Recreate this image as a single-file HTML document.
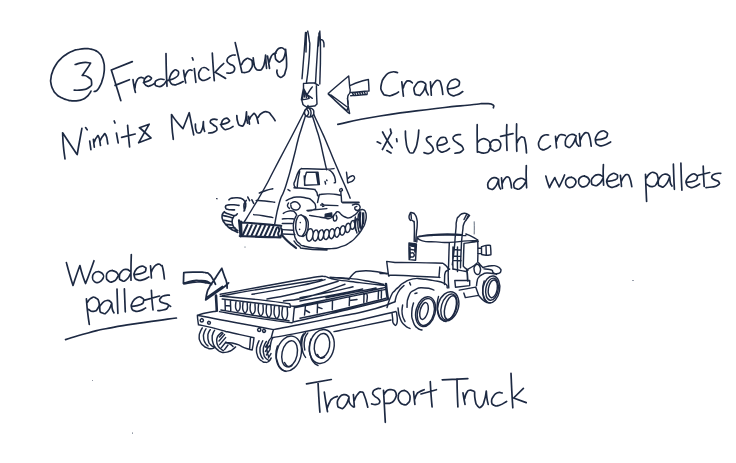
<!DOCTYPE html>
<html><head><meta charset="utf-8"><title>Sketch</title>
<style>
html,body{margin:0;padding:0;background:#fff;}
body{width:736px;height:463px;overflow:hidden;font-family:"Liberation Sans",sans-serif;}
svg{display:block;}
</style></head><body>
<svg width="736" height="463" viewBox="0 0 736 463">
<defs><filter id="soft" x="-2%" y="-2%" width="104%" height="104%"><feGaussianBlur stdDeviation="0.32"/></filter></defs>
<rect width="736" height="463" fill="#ffffff"/>
<g filter="url(#soft)">
<g fill="none" stroke="#1e2943" stroke-linecap="round" stroke-linejoin="round">
<path d="M97.0,51.2C95.0,50.5 94.8,50.0 91.0,49.2C87.2,48.4 90.0,48.6 85.7,48.7C81.4,48.8 82.5,48.7 78.0,49.5C73.5,50.3 76.5,49.4 72.3,51.2C68.1,53.0 69.6,52.2 65.5,55.0C61.4,57.8 63.3,56.2 60.0,59.7C56.7,63.2 58.0,61.4 55.5,65.5C53.0,69.6 53.9,67.9 52.4,72.1C50.9,76.3 51.5,74.2 51.0,78.0C50.5,81.8 50.3,79.7 51.0,83.5C51.7,87.3 51.3,86.0 53.0,89.5C54.7,93.0 53.5,91.3 56.2,94.0C58.9,96.7 57.5,95.6 61.0,97.5C64.5,99.4 62.9,98.6 66.6,99.7C70.3,100.8 68.2,100.5 72.0,100.8C75.8,101.1 74.3,101.1 78.0,100.6C81.7,100.1 80.1,100.5 83.0,99.2C85.9,97.9 84.5,98.5 86.6,96.8C88.7,95.1 87.7,95.9 89.2,94.0C90.7,92.1 90.4,92.1 91.0,91.1 M95.5,50.6C96.8,51.6 97.4,51.4 99.5,53.5C101.6,55.6 100.4,54.1 101.8,56.9C103.2,59.7 102.8,58.5 103.6,62.0C104.4,65.5 104.2,63.3 104.3,67.3C104.4,71.3 104.4,69.9 103.8,74.0C103.2,78.1 103.5,76.0 102.4,79.7C101.3,83.4 102.0,81.8 100.5,85.0C99.0,88.2 99.5,87.2 98.0,89.2C96.5,91.2 97.3,90.2 96.0,91.0C94.7,91.8 94.8,91.3 94.2,91.5 M75.2,64.5C77.8,63.9 77.9,63.1 83.0,62.6C88.1,62.1 88.1,62.9 90.6,63.0C89.2,65.2 89.3,65.4 86.5,69.5C83.7,73.6 83.6,73.4 82.2,75.4C84.1,75.9 84.9,74.6 88.0,77.0C91.1,79.4 91.4,78.9 91.6,82.5C91.8,86.1 91.7,85.4 88.5,87.8C85.3,90.2 86.8,89.0 82.0,89.8C77.2,90.6 76.8,90.1 74.2,90.2" stroke-width="1.7"/>
<path d="M132.3,61.6L111.3,70.0C112.9,75.0 112.8,74.8 116.0,85.0C119.2,95.2 119.2,95.4 120.8,100.6 M115.1,85.4L129.4,79.7 M133.0,79.5C133.3,81.7 133.2,81.7 134.0,86.0C134.8,90.3 134.9,90.3 135.4,92.4 M135.0,88.0C135.4,86.0 134.7,85.4 136.2,82.0C137.7,78.6 137.1,79.1 139.5,77.8C141.9,76.5 142.2,77.9 143.5,78.0 M143.5,82.6C145.8,81.7 148.1,81.7 150.3,79.8C152.5,77.9 151.3,77.7 150.0,76.8C148.7,75.9 148.5,75.4 146.5,77.0C144.5,78.6 144.0,78.6 144.0,81.5C144.0,84.4 144.3,84.2 146.5,85.6C148.7,87.0 147.7,86.5 150.5,85.6C153.3,84.7 153.5,83.9 155.0,83.0 M164.0,79.5C162.2,79.5 161.5,78.2 158.5,79.5C155.5,80.8 155.0,81.2 155.0,83.5C155.0,85.8 155.8,86.0 158.5,86.5C161.2,87.0 160.4,86.8 163.0,85.0C165.6,83.2 165.1,82.3 166.2,81.0 M166.0,53.6C166.1,59.1 166.0,59.1 166.3,70.0C166.6,80.9 166.8,80.9 167.0,86.3 M167.6,80.6C170.2,79.6 171.9,80.0 175.5,77.6C179.1,75.2 178.0,75.8 178.5,73.5C179.0,71.2 178.7,71.4 177.0,70.6C175.3,69.8 175.8,69.0 173.5,71.0C171.2,73.0 171.1,72.8 170.0,76.5C168.9,80.2 169.0,79.3 170.2,82.0C171.4,84.7 170.9,83.9 173.5,84.6C176.1,85.3 174.8,85.0 178.0,84.0C181.2,83.0 181.5,82.4 183.2,81.6 M183.6,70.4C183.9,72.6 183.9,72.9 184.6,77.0C185.3,81.1 185.3,80.9 185.7,82.8 M185.0,77.0C185.6,75.5 185.3,74.8 186.8,72.5C188.3,70.2 187.8,70.7 189.5,70.0C191.2,69.3 191.2,70.3 192.0,70.4 M194.3,68.5C194.5,70.7 194.5,70.4 195.0,75.0C195.5,79.6 195.6,79.9 195.9,82.3 M192.3,57.8L193.1,60.0 M208.6,70.0C207.1,69.2 206.9,67.3 204.0,67.5C201.1,67.7 201.7,67.8 200.0,70.5C198.3,73.2 198.5,72.5 198.8,75.5C199.1,78.5 198.8,78.1 201.0,79.6C203.2,81.1 202.5,80.7 205.5,80.0C208.5,79.3 208.5,78.4 210.0,77.6 M212.3,53.0C212.6,57.7 212.5,57.8 213.2,67.0C213.9,76.2 213.9,76.1 214.3,80.6 M223.7,63.5C222.1,65.0 221.8,65.1 219.0,68.0C216.2,70.9 216.5,70.9 215.2,72.3C216.8,73.2 216.5,73.0 220.0,75.0C223.5,77.0 223.7,77.3 225.6,78.4 M235.3,55.0C233.7,55.3 233.3,54.3 230.5,56.0C227.7,57.7 227.3,57.4 227.0,60.0C226.7,62.6 227.3,61.8 229.5,63.8C231.7,65.8 231.9,63.9 233.5,66.0C235.1,68.1 235.1,67.7 234.4,70.0C233.7,72.3 234.0,71.8 231.5,72.8C229.0,73.8 228.4,72.9 226.8,73.0 M235.2,42.6C236.3,47.4 236.3,47.1 238.5,57.0C240.7,66.9 240.8,67.2 241.9,72.3 M241.6,64.5C242.7,62.9 242.4,61.6 245.0,59.8C247.6,58.0 247.0,57.8 249.5,59.0C252.0,60.2 252.1,60.0 252.4,63.5C252.7,67.0 252.5,66.6 250.5,69.5C248.5,72.4 249.3,71.3 246.5,72.2C243.7,73.1 243.6,72.3 242.2,72.3 M253.2,57.8C253.5,59.7 253.3,60.1 254.0,63.5C254.7,66.9 253.8,65.8 255.4,68.0C257.0,70.2 256.5,70.2 258.9,70.2C261.3,70.2 260.6,70.7 262.5,68.0C264.4,65.3 263.6,66.3 264.6,62.0C265.6,57.7 265.3,57.5 265.6,55.2C265.7,57.5 265.7,57.6 266.0,62.0C266.3,66.4 266.4,66.2 266.6,68.3 M267.5,56.0C267.8,58.0 267.8,57.9 268.5,62.0C269.2,66.1 269.2,66.2 269.5,68.3 M269.3,62.0C269.9,60.3 269.6,59.7 271.0,57.0C272.4,54.3 271.7,55.3 273.4,54.0C275.1,52.7 275.3,53.3 276.2,53.0 M284.8,49.6C283.4,49.0 283.3,47.3 280.5,47.8C277.7,48.3 278.3,48.3 276.5,51.0C274.7,53.7 274.9,52.7 275.2,56.0C275.5,59.3 275.4,59.4 277.5,61.0C279.6,62.6 279.2,62.5 281.5,60.8C283.8,59.1 283.1,59.8 284.5,56.0C285.9,52.2 285.2,51.5 285.6,49.3C285.9,53.9 286.6,55.8 286.6,63.0C286.6,70.2 286.7,66.6 285.5,71.0C284.3,75.4 285.0,74.3 283.0,76.2C281.0,78.1 281.4,77.7 279.5,76.8C277.6,75.9 278.0,75.7 277.2,73.5C276.4,71.3 277.1,71.3 277.0,70.2" stroke-width="1.7"/>
<path d="M65.0,159.0C64.5,154.7 64.2,154.7 63.4,146.0C62.6,137.3 62.9,137.2 62.6,132.8C65.1,136.5 65.1,136.7 70.0,144.0C74.9,151.3 74.8,151.1 77.2,154.6C78.0,150.1 78.0,149.7 79.6,141.0C81.2,132.3 81.1,132.6 81.9,128.4 M89.7,141.0L90.9,149.6 M85.6,127.6L87.2,129.8 M93.4,139.3L94.3,147.2 M94.3,142.0C95.0,140.5 95.0,139.2 96.5,137.5C98.0,135.8 97.5,134.3 98.8,137.0C100.1,139.7 99.9,142.7 100.5,145.5 M100.5,140.0C101.3,138.6 101.2,137.5 103.0,135.8C104.8,134.1 104.2,132.3 105.8,135.0C107.4,137.7 107.1,140.9 107.8,143.8 M116.4,133.0L118.2,142.8 M114.2,121.0L115.0,123.0 M127.6,125.4C127.9,128.9 127.8,128.8 128.5,136.0C129.2,143.2 129.2,143.3 129.6,147.0 M121.6,137.4L135.2,134.0 M139.4,127.8L149.2,124.2L138.6,142.8L151.0,138.0L140.0,128.0 M173.3,139.3C172.9,135.2 172.6,135.3 172.0,127.0C171.4,118.7 171.7,118.7 171.5,114.5C173.3,117.0 173.2,117.3 177.0,122.0C180.8,126.7 181.0,126.5 183.0,128.7C184.0,126.1 183.9,126.3 186.0,121.0C188.1,115.7 188.1,115.5 189.2,112.7C190.0,116.5 190.0,116.6 191.5,124.0C193.0,131.4 193.0,131.3 193.7,134.9 M195.4,124.2C195.6,126.1 195.0,127.1 196.0,130.0C197.0,132.9 196.5,133.2 198.5,133.0C200.5,132.8 200.4,133.3 202.0,129.5C203.6,125.7 202.9,124.2 203.4,121.6C203.5,123.4 203.2,123.8 203.6,127.0C204.0,130.2 204.3,129.9 204.6,131.3 M217.0,119.6C215.5,119.5 214.7,118.6 212.5,119.4C210.3,120.2 210.0,120.1 210.3,122.0C210.6,123.9 211.3,123.0 213.5,125.0C215.7,127.0 216.5,125.7 216.8,128.0C217.1,130.3 217.2,130.1 214.5,131.8C211.8,133.5 210.6,132.6 208.7,133.0 M220.5,124.5C223.0,123.8 225.3,124.2 228.0,122.5C230.7,120.8 229.5,120.8 228.5,119.5C227.5,118.2 227.3,117.3 225.0,118.5C222.7,119.7 222.0,119.7 221.5,123.0C221.0,126.3 221.3,126.5 223.5,128.5C225.7,130.5 224.8,129.7 228.0,129.0C231.2,128.3 231.3,127.3 233.0,126.5 M236.8,115.6C237.1,117.7 236.6,118.7 237.8,122.0C239.0,125.3 238.2,125.3 240.5,125.6C242.8,125.9 242.6,127.4 244.6,122.8C246.6,118.2 245.9,115.5 246.5,111.8C246.6,113.9 246.4,114.2 246.8,118.0C247.2,121.8 247.3,121.5 247.6,123.2 M248.6,116.3L249.5,124.2 M249.5,119.5C250.3,118.1 250.0,116.9 252.0,115.3C254.0,113.7 253.4,112.1 255.5,114.8C257.6,117.5 257.4,120.5 258.3,123.3 M258.0,117.5C259.3,116.0 258.8,114.8 262.0,113.0C265.2,111.2 264.3,111.2 267.5,112.0C270.7,112.8 269.0,112.6 271.5,115.5C274.0,118.4 273.9,119.0 275.1,120.7" stroke-width="1.7"/>
<path d="M397.5,72.6C395.3,72.5 395.2,70.9 391.0,72.2C386.8,73.5 388.2,72.4 385.0,76.5C381.8,80.6 382.2,79.3 381.3,84.5C380.4,89.7 380.1,88.3 382.2,92.0C384.3,95.7 383.7,94.6 387.5,95.5C391.3,96.4 389.8,95.8 393.5,94.6C397.2,93.4 396.8,92.9 398.5,92.0 M401.8,81.9C402.1,84.3 402.1,84.3 402.6,89.0C403.1,93.7 403.1,93.7 403.4,96.1 M403.2,88.0C403.9,86.3 403.5,85.4 405.3,83.0C407.1,80.6 406.2,81.0 408.5,80.9C410.8,80.8 411.0,82.2 412.3,82.8 M425.5,83.5C423.8,82.9 423.7,81.1 420.5,81.6C417.3,82.1 417.9,81.9 415.8,85.0C413.7,88.1 413.6,87.7 414.2,91.0C414.8,94.3 414.7,94.5 417.5,95.0C420.3,95.5 419.7,96.0 422.5,92.5C425.3,89.0 424.7,87.2 425.8,84.5C425.9,86.3 425.2,86.6 426.0,90.0C426.8,93.4 427.5,93.2 428.2,94.8 M430.4,81.9C430.6,84.1 430.6,84.1 430.9,88.5C431.2,92.9 431.2,93.0 431.3,95.2 M431.3,88.0C432.4,86.2 432.1,85.0 434.5,82.5C436.9,80.0 436.3,79.7 438.5,80.5C440.7,81.3 439.8,80.4 441.2,85.0C442.6,89.6 442.3,91.3 442.8,94.4 M448.5,88.8C451.0,88.3 452.4,88.8 456.0,87.2C459.6,85.6 458.8,86.4 459.3,84.0C459.8,81.6 459.6,81.4 457.5,80.0C455.4,78.6 456.0,78.5 453.0,79.8C450.0,81.1 450.2,80.4 448.5,84.0C446.8,87.6 447.0,86.8 447.8,90.5C448.6,94.2 448.1,93.5 451.0,95.0C453.9,96.5 452.6,96.1 456.5,95.0C460.4,93.9 460.7,92.7 462.8,91.6 M337.8,124.4C351.9,121.6 347.3,121.3 380.0,116.0C412.7,110.7 406.0,112.2 436.0,108.5C466.0,104.8 454.0,106.6 470.0,105.0C486.0,103.4 476.6,103.8 484.0,103.7C491.4,103.6 489.1,103.2 492.2,104.6C495.3,106.0 493.0,106.7 493.4,107.8" stroke-width="1.7"/>
<path d="M382.6,132.0C384.1,134.7 383.8,134.7 387.0,140.0C390.2,145.3 390.5,145.2 392.2,147.8 M391.4,132.8C389.9,135.5 390.0,135.4 387.0,141.0C384.0,146.6 383.9,146.7 382.4,149.5 M390.4,129.2L391.0,132.0 M396.6,138.8L397.0,141.6 M377.2,141.8L380.6,143.4 M386.8,150.6L391.0,153.0 M405.4,131.0C405.6,134.3 405.1,134.8 406.0,141.0C406.9,147.2 406.1,145.5 408.0,149.5C409.9,153.5 409.3,153.0 411.6,153.0C413.9,153.0 413.0,153.5 415.0,149.5C417.0,145.5 416.2,147.5 417.5,141.0C418.8,134.5 418.4,133.7 418.8,130.0 M431.2,136.5C430.0,136.8 429.0,136.2 427.5,137.5C426.0,138.8 426.0,138.3 426.8,140.5C427.6,142.7 428.0,141.6 430.0,144.0C432.0,146.4 432.0,145.3 432.8,147.8C433.6,150.3 433.9,149.6 432.5,151.5C431.1,153.4 431.3,153.2 428.5,153.6C425.7,154.0 425.5,152.9 424.0,152.6 M437.5,145.5C440.0,144.9 442.0,145.6 445.0,143.8C448.0,142.0 447.2,142.2 446.5,140.0C445.8,137.8 445.7,137.1 443.0,137.3C440.3,137.5 440.4,137.4 438.5,140.5C436.6,143.6 436.8,142.9 437.3,146.5C437.8,150.1 437.6,149.6 440.0,151.3C442.4,153.0 441.3,152.4 444.5,151.5C447.7,150.6 447.8,149.5 449.5,148.5 M460.5,134.7C458.8,134.9 457.9,133.9 455.5,135.3C453.1,136.7 452.5,136.4 453.2,139.0C453.9,141.6 454.4,140.3 457.5,143.0C460.6,145.7 461.2,144.2 462.5,147.0C463.8,149.8 464.0,149.4 461.5,151.5C459.0,153.6 457.2,152.6 455.0,153.2 M477.2,124.7C477.2,129.1 477.1,128.8 477.2,138.0C477.3,147.2 477.3,147.5 477.4,152.2 M477.4,142.6C478.8,141.5 478.5,140.3 481.5,139.3C484.5,138.3 483.6,138.0 486.5,139.6C489.4,141.2 489.2,140.7 490.2,144.0C491.2,147.3 491.2,146.5 489.5,149.5C487.8,152.5 489.0,152.3 485.0,153.0C481.0,153.7 480.1,152.1 477.6,151.6 M496.0,139.7C494.5,140.3 493.5,139.4 491.5,141.5C489.5,143.6 489.7,143.2 490.0,146.0C490.3,148.8 490.2,148.5 492.5,150.0C494.8,151.5 494.3,151.7 497.0,150.5C499.7,149.3 499.7,149.5 500.5,146.5C501.3,143.5 501.0,143.8 499.5,141.5C498.0,139.2 497.2,140.3 496.0,139.7 M506.8,124.7C506.7,129.1 506.5,129.4 506.6,138.0C506.7,146.6 506.9,146.3 507.0,150.4 M500.6,136.3L513.0,133.6 M516.6,123.9C516.6,128.6 516.4,128.9 516.5,138.0C516.6,147.1 516.7,146.9 516.8,151.3 M516.8,143.0C517.7,141.5 517.4,140.4 519.5,138.5C521.6,136.6 521.1,136.3 523.0,137.3C524.9,138.3 524.0,136.3 525.2,141.5C526.4,146.7 526.1,149.2 526.5,153.0 M548.6,135.0C546.9,135.2 546.4,133.9 543.5,135.6C540.6,137.3 541.4,136.7 539.8,140.0C538.2,143.3 538.1,142.4 538.7,145.5C539.3,148.6 539.1,148.1 541.5,149.3C543.9,150.5 543.0,150.1 546.0,149.0C549.0,147.9 548.9,147.0 550.4,146.0 M555.5,136.3C555.7,138.2 555.6,138.2 556.0,142.0C556.4,145.8 556.4,145.9 556.6,147.8 M556.4,141.5C557.0,139.9 556.8,139.1 558.3,136.8C559.8,134.5 558.7,135.0 561.0,134.6C563.3,134.2 563.9,135.3 565.3,135.6 M576.2,136.0C574.8,135.5 575.0,134.1 572.0,134.4C569.0,134.7 569.5,134.3 567.3,137.0C565.1,139.7 565.2,139.2 565.3,142.5C565.4,145.8 565.3,145.9 567.5,146.8C569.7,147.7 569.2,148.3 572.0,145.2C574.8,142.1 574.5,140.1 575.8,137.5C576.0,139.2 575.3,139.6 576.3,142.5C577.3,145.4 578.0,145.0 578.8,146.2 M579.4,133.6C579.6,135.7 579.7,135.9 580.0,140.0C580.3,144.1 580.3,144.0 580.4,146.0 M580.3,140.0C581.3,138.3 581.0,137.2 583.2,134.8C585.4,132.4 584.7,132.2 586.8,132.8C588.9,133.4 588.0,132.0 589.5,136.5C591.0,141.0 590.6,143.0 591.2,146.2 M596.0,139.8C598.5,139.4 599.8,140.1 603.5,138.6C607.2,137.1 606.5,137.7 607.2,135.4C607.9,133.1 607.6,133.1 605.5,131.8C603.4,130.5 604.0,130.1 601.0,131.4C598.0,132.7 598.4,132.4 596.6,135.8C594.8,139.2 595.0,138.4 595.6,141.5C596.2,144.6 595.7,144.0 598.5,145.2C601.3,146.4 600.0,146.3 604.0,145.2C608.0,144.1 608.4,143.1 610.6,142.0" stroke-width="1.7"/>
<path d="M498.5,179.3C497.0,178.7 497.0,177.2 494.0,177.6C491.0,178.0 491.6,177.9 489.5,180.5C487.4,183.1 487.5,182.7 487.8,185.5C488.1,188.3 488.1,188.4 490.5,189.0C492.9,189.6 492.3,190.2 495.0,187.2C497.7,184.2 497.4,182.4 498.6,180.0C498.7,181.8 498.3,182.5 499.0,185.5C499.7,188.5 500.1,187.8 500.6,189.0 M501.5,177.9C501.7,179.8 501.7,180.0 502.0,183.5C502.3,187.0 502.3,186.8 502.4,188.5 M502.4,183.0C503.3,181.5 503.1,180.5 505.0,178.5C506.9,176.5 506.3,176.3 508.0,177.0C509.7,177.7 509.0,176.9 510.2,180.5C511.4,184.1 511.1,185.4 511.5,187.8 M525.5,180.2C523.8,179.6 523.8,178.0 520.5,178.3C517.2,178.6 517.7,178.6 515.5,181.0C513.3,183.4 513.5,182.9 513.8,185.5C514.1,188.1 513.9,188.1 516.5,188.8C519.1,189.5 518.3,189.9 521.5,187.5C524.7,185.1 524.5,183.5 526.0,181.5 M526.3,165.5C526.3,169.3 526.1,169.6 526.2,177.0C526.3,184.4 526.5,184.2 526.6,187.8 M545.8,176.0C546.4,178.0 546.3,178.1 547.5,182.0C548.7,185.9 548.8,185.7 549.5,187.6C550.3,185.9 550.2,185.8 552.0,182.5C553.8,179.2 553.9,179.2 554.8,177.6C555.5,179.2 555.5,179.4 557.0,182.5C558.5,185.6 558.5,185.4 559.2,186.8C560.1,184.9 560.2,184.9 562.0,181.0C563.8,177.1 563.7,177.0 564.6,175.0 M571.5,177.2C570.2,177.6 569.5,176.7 567.5,178.5C565.5,180.3 565.6,179.8 565.6,182.5C565.6,185.2 565.5,185.0 567.5,186.6C569.5,188.2 569.0,188.0 571.5,187.3C574.0,186.6 573.7,186.9 575.0,184.5C576.3,182.1 576.6,182.4 575.4,180.0C574.2,177.6 572.8,178.1 571.5,177.2 M584.5,176.0C583.2,176.5 582.5,175.6 580.5,177.4C578.5,179.2 578.6,178.7 578.6,181.5C578.6,184.3 578.6,184.1 580.6,185.8C582.6,187.5 582.0,187.3 584.6,186.6C587.2,185.9 587.0,186.1 588.4,183.6C589.8,181.1 590.1,181.5 588.8,179.0C587.5,176.5 585.9,177.0 584.5,176.0 M602.6,176.6C601.1,175.9 601.1,174.4 598.0,174.6C594.9,174.8 595.4,174.8 593.2,177.2C591.0,179.6 591.1,179.1 591.4,181.8C591.7,184.5 591.5,184.5 594.0,185.2C596.5,185.9 595.9,186.4 599.0,184.0C602.1,181.6 601.8,180.0 603.2,178.0 M603.4,164.6C603.3,168.1 603.1,168.1 603.2,175.0C603.3,181.9 603.5,181.8 603.6,185.2 M607.0,181.4C609.5,180.9 611.0,181.5 614.5,180.0C618.0,178.5 617.2,179.0 617.5,177.0C617.8,175.0 617.5,174.9 615.5,174.0C613.5,173.1 614.2,172.7 611.5,174.2C608.8,175.7 608.9,175.4 607.5,178.5C606.1,181.6 606.4,180.7 607.2,183.5C608.0,186.3 607.6,185.7 610.0,186.8C612.4,187.9 611.5,187.6 614.5,186.8C617.5,186.0 617.5,185.3 619.0,184.5 M620.4,175.3C620.6,177.2 620.6,177.3 621.0,181.0C621.4,184.7 621.3,184.7 621.5,186.5 M621.5,181.0C622.3,179.5 622.1,178.6 624.0,176.5C625.9,174.4 625.3,174.1 627.2,174.6C629.1,175.1 628.3,174.0 629.8,178.0C631.3,182.0 631.1,183.7 631.8,186.6 M645.5,174.4C645.7,178.9 645.6,179.0 646.0,188.0C646.4,197.0 646.4,197.0 646.6,201.5 M646.4,178.0C647.6,176.5 647.3,175.2 650.0,173.5C652.7,171.8 651.9,171.6 654.5,172.8C657.1,174.0 657.0,173.7 657.8,177.0C658.6,180.3 658.8,179.6 657.0,182.8C655.2,186.0 656.0,186.1 652.5,186.6C649.0,187.1 648.6,185.0 646.6,184.2 M669.5,176.0C668.0,175.4 668.1,173.9 665.0,174.2C661.9,174.5 662.5,174.2 660.2,177.0C657.9,179.8 658.0,179.4 658.2,182.5C658.4,185.6 658.4,185.6 660.8,186.4C663.2,187.2 662.5,188.1 665.5,185.0C668.5,181.9 668.4,179.7 669.8,177.0C670.0,178.8 669.6,179.5 670.3,182.5C671.0,185.5 671.4,184.8 672.0,186.0 M673.4,164.2C673.5,168.5 673.5,168.6 673.8,177.0C674.1,185.4 674.2,185.2 674.4,189.3 M680.9,163.2C681.0,167.8 681.0,168.0 681.3,177.0C681.6,186.0 681.7,185.8 681.9,190.2 M686.5,182.3C689.0,181.9 690.4,182.4 694.0,181.0C697.6,179.6 696.7,180.1 697.2,178.0C697.7,175.9 697.4,175.7 695.5,174.6C693.6,173.5 694.3,173.1 691.5,174.6C688.7,176.1 688.7,175.9 687.0,179.0C685.3,182.1 685.7,181.3 686.5,184.0C687.3,186.7 687.0,186.0 689.5,187.0C692.0,188.0 690.6,188.0 694.0,187.0C697.4,186.0 697.7,185.0 699.6,184.0 M703.2,166.0C703.3,169.3 703.3,169.2 703.6,176.0C703.9,182.8 704.0,183.0 704.2,186.5 M698.5,175.3L709.7,172.5 M720.8,173.3C719.0,173.5 718.5,172.7 715.5,173.8C712.5,174.9 712.3,174.6 711.8,176.5C711.3,178.4 711.7,177.7 714.0,179.5C716.3,181.3 717.6,180.0 718.8,182.0C720.0,184.0 719.8,183.7 717.5,185.4C715.2,187.1 715.8,186.3 712.0,187.0C708.2,187.7 708.0,187.4 706.0,187.6" stroke-width="1.7"/>
<path d="M66.4,262.6C67.4,266.4 67.3,266.4 69.5,274.0C71.7,281.6 71.8,281.6 73.0,285.4C74.2,281.9 74.2,281.6 76.5,275.0C78.8,268.4 78.8,268.7 79.9,265.5C80.8,268.7 80.6,269.0 82.5,275.0C84.4,281.0 84.6,280.7 85.6,283.5C87.1,279.7 87.2,279.6 90.0,272.0C92.8,264.4 92.7,264.5 94.0,260.7 M98.5,271.6C97.2,272.1 96.5,271.1 94.5,273.0C92.5,274.9 92.5,274.3 92.5,277.2C92.5,280.1 92.4,279.9 94.5,281.6C96.6,283.3 96.1,283.1 98.8,282.2C101.5,281.3 101.2,281.6 102.6,279.0C104.0,276.4 104.4,276.9 103.0,274.4C101.6,271.9 100.0,272.5 98.5,271.6 M112.5,270.5C111.1,271.0 110.2,270.0 108.2,272.0C106.2,274.0 106.3,273.4 106.4,276.4C106.5,279.4 106.4,279.3 108.6,281.0C110.8,282.7 110.2,282.5 113.0,281.5C115.8,280.5 115.5,280.7 117.0,278.0C118.5,275.3 118.9,275.9 117.4,273.4C115.9,270.9 114.1,271.5 112.5,270.5 M130.4,271.4C128.9,270.7 129.0,269.3 126.0,269.4C123.0,269.5 123.7,269.2 121.5,271.6C119.3,274.0 119.4,273.6 119.4,276.5C119.4,279.4 119.2,279.4 121.6,280.4C124.0,281.4 123.4,282.0 126.5,279.6C129.6,277.2 129.4,275.3 130.8,273.2 M131.3,254.6C131.2,259.1 131.1,259.5 131.0,268.0C130.9,276.5 131.0,276.1 131.0,280.2 M134.2,274.6C137.0,274.1 138.7,274.6 142.6,273.0C146.5,271.4 145.3,271.9 145.8,269.8C146.3,267.7 146.2,267.8 144.1,266.8C142.0,265.8 142.6,265.4 139.6,266.8C136.6,268.2 136.8,267.8 135.1,271.0C133.4,274.2 133.6,273.6 134.4,276.5C135.2,279.4 134.7,278.7 137.4,279.8C140.1,280.9 138.8,280.7 142.6,279.8C146.4,278.9 146.7,277.9 148.8,277.0 M150.5,265.9C150.7,267.9 150.7,268.0 151.0,272.0C151.3,276.0 151.3,276.0 151.4,278.0 M151.3,272.0C152.2,270.3 151.8,269.6 154.0,267.0C156.2,264.4 155.6,264.7 157.9,264.2C160.2,263.7 159.4,264.0 161.0,265.4C162.6,266.8 161.7,263.8 162.8,268.3C163.9,272.8 163.9,275.4 164.4,279.0 M86.4,298.8C86.8,303.2 86.6,303.5 87.6,312.0C88.6,320.5 88.7,320.3 89.3,324.4 M87.3,302.5C88.5,301.1 88.3,299.9 91.0,298.3C93.7,296.7 92.8,296.4 95.5,297.8C98.2,299.2 98.2,299.1 99.0,302.5C99.8,305.9 99.8,305.1 98.0,308.0C96.2,310.9 96.7,310.8 93.5,311.3C90.3,311.8 90.2,310.0 88.5,309.4 M111.5,302.5C110.0,301.8 110.2,300.2 107.0,300.5C103.8,300.8 104.4,300.7 102.0,303.5C99.6,306.3 99.6,305.8 99.8,309.0C100.0,312.2 99.9,312.2 102.5,313.0C105.1,313.8 104.4,314.7 107.5,311.5C110.6,308.3 110.4,306.2 111.8,303.5C112.0,305.3 111.6,305.9 112.3,309.0C113.0,312.1 113.4,311.5 114.0,312.8 M117.0,289.0C117.1,293.0 117.1,292.9 117.4,301.0C117.7,309.1 117.7,309.3 117.9,313.4 M124.4,288.9C124.5,292.6 124.5,292.4 124.8,300.0C125.1,307.6 125.1,307.9 125.3,311.8 M131.6,306.3C134.4,305.8 136.0,306.4 140.0,304.8C144.0,303.2 142.9,303.7 143.5,301.4C144.1,299.1 143.9,299.1 141.8,297.8C139.7,296.5 140.3,296.1 137.2,297.6C134.1,299.1 134.3,298.9 132.4,302.3C130.5,305.7 130.9,305.0 131.6,307.8C132.3,310.6 131.8,309.8 134.4,310.8C137.0,311.8 135.8,311.7 139.5,310.8C143.2,309.9 143.6,308.9 145.6,308.0 M151.4,290.3C151.6,293.5 151.5,293.5 152.0,300.0C152.5,306.5 152.7,306.6 153.0,309.9 M144.8,300.1L159.5,296.0 M169.3,295.2C167.7,295.3 167.3,294.8 164.5,295.6C161.7,296.4 162.6,295.8 161.0,297.6C159.4,299.4 159.0,299.2 159.8,301.0C160.6,302.8 160.9,301.9 163.5,303.0C166.1,304.1 166.3,302.9 167.7,304.4C169.1,305.9 168.8,305.8 167.6,307.6C166.4,309.4 167.2,308.8 164.0,309.8C160.8,310.8 159.9,310.4 157.9,310.7 M167.7,304.4L170.6,306.4 M65.5,339.6C73.0,337.4 72.5,337.0 88.0,333.0C103.5,329.0 93.0,331.1 112.0,327.6C131.0,324.1 123.5,325.6 145.0,322.4C166.5,319.2 165.9,319.5 176.4,318.0" stroke-width="1.7"/>
<path d="M306.5,383.9L331.3,379.5 M318.0,381.8C318.3,386.9 318.2,386.9 318.8,397.0C319.4,407.1 319.5,407.1 319.9,412.2 M324.3,392.1C324.8,395.4 324.7,395.5 325.8,402.0C326.9,408.5 326.9,408.4 327.5,411.6 M327.3,408.0C328.0,406.2 327.8,405.6 329.5,402.5C331.2,399.4 329.8,400.6 332.4,398.6C335.0,396.6 335.7,397.1 337.3,396.4 M348.8,396.5C347.2,395.9 347.2,394.2 344.0,394.6C340.8,395.0 341.4,394.8 339.2,397.8C337.0,400.8 337.1,400.2 337.4,403.5C337.7,406.8 337.5,406.9 340.0,407.8C342.5,408.7 342.0,409.6 345.0,406.2C348.0,402.8 347.7,400.4 349.0,397.5C349.2,399.3 348.1,399.8 349.6,403.0C351.1,406.2 352.1,405.7 353.4,407.0 M353.4,394.5C353.6,396.7 353.6,396.8 353.9,401.0C354.2,405.2 354.2,405.0 354.4,407.0 M354.3,400.5C355.4,398.5 355.1,397.3 357.5,394.5C359.9,391.7 359.2,391.5 361.5,392.0C363.8,392.5 362.4,390.9 364.5,396.0C366.6,401.1 366.7,403.5 367.8,407.2 M380.4,388.5C378.9,388.7 378.5,387.9 376.0,389.2C373.5,390.5 373.3,390.1 372.8,392.4C372.3,394.7 372.5,393.8 374.4,396.0C376.3,398.2 376.8,396.9 378.5,399.0C380.2,401.1 380.3,400.6 379.6,402.4C378.9,404.2 379.2,403.9 376.5,404.4C373.8,404.9 373.2,404.1 371.6,403.9 M383.5,390.3C383.8,395.5 383.8,395.3 384.4,406.0C385.0,416.7 385.0,416.9 385.3,422.3 M384.0,394.5C384.9,393.3 384.7,392.6 386.6,391.0C388.5,389.4 387.5,390.0 389.6,389.7C391.7,389.4 391.1,389.4 393.0,390.0C394.9,390.6 394.1,390.1 395.2,391.6C396.3,393.1 396.0,392.7 396.2,394.5C396.4,396.3 396.5,395.1 395.8,397.1C395.1,399.1 395.4,398.6 394.0,400.4C392.6,402.2 393.4,401.6 391.5,402.6C389.6,403.6 390.5,403.2 388.4,403.4C386.3,403.6 386.3,403.3 385.3,403.3 M404.6,390.4C403.1,390.9 402.3,390.0 400.2,392.0C398.1,394.0 398.5,393.3 398.3,396.5C398.1,399.7 397.7,398.8 399.5,401.5C401.3,404.2 400.8,404.0 403.6,404.6C406.4,405.2 405.9,405.2 408.0,403.2C410.1,401.2 409.8,401.8 410.0,398.5C410.2,395.2 410.4,396.1 408.6,393.4C406.8,390.7 405.9,391.4 404.6,390.4 M413.6,391.6C413.8,393.7 413.8,393.7 414.2,398.0C414.6,402.3 414.7,402.3 414.9,404.5 M414.8,399.0C415.4,397.5 415.1,396.8 416.6,394.5C418.1,392.2 416.7,393.6 419.2,392.0C421.7,390.4 422.5,390.5 424.1,389.7 M430.3,381.7C430.5,385.8 430.4,385.6 431.0,394.0C431.6,402.4 431.7,402.7 432.1,407.0 M421.0,394.0L436.4,389.7 M442.2,379.8L467.8,378.6 M457.0,378.9C457.1,383.6 457.0,383.6 457.3,393.0C457.6,402.4 457.7,402.3 457.9,407.0 M463.0,392.8C463.3,394.9 463.3,395.2 464.0,399.0C464.7,402.8 464.7,402.5 465.0,404.3 M464.7,398.5C465.3,396.7 464.9,395.7 466.5,393.0C468.1,390.3 467.1,390.9 469.5,390.3C471.9,389.7 472.4,390.9 473.8,391.2 M474.6,391.9C474.8,394.6 474.2,395.4 475.2,400.0C476.2,404.6 475.4,403.6 477.5,405.8C479.6,408.0 479.2,408.4 481.5,406.5C483.8,404.6 482.9,405.2 484.5,400.0C486.1,394.8 485.7,394.0 486.3,391.0C486.5,393.3 486.3,393.6 486.9,398.0C487.5,402.4 487.8,402.2 488.2,404.3 M502.3,393.0C500.7,392.9 500.4,391.7 497.5,392.8C494.6,393.9 495.5,393.4 493.5,396.3C491.5,399.2 491.4,398.5 491.6,401.5C491.8,404.5 491.4,404.0 494.0,405.2C496.6,406.4 495.3,406.5 499.5,405.2C503.7,403.9 504.2,402.7 506.6,401.4 M511.0,373.3C511.3,379.2 511.2,379.5 511.8,391.0C512.4,402.5 512.5,402.2 512.8,407.8 M523.4,388.3L513.6,398.0L526.2,402.6" stroke-width="1.7"/>
<path d="M305.5,32.5C305.0,39.2 305.3,37.1 304.1,52.5C302.9,67.9 302.7,70.0 302.0,78.8 M307.7,31.1C308.2,34.1 308.5,34.3 309.2,40.0C309.9,45.7 310.0,39.3 309.7,48.2C309.4,57.1 309.5,55.1 308.4,66.7C307.3,78.3 307.1,77.6 306.4,83.0 M306.3,32.5C306.3,35.7 306.3,35.5 306.2,42.0C306.1,48.5 306.1,48.7 306.0,52.0 M318.4,36.8C317.9,44.4 317.9,44.2 316.9,59.6C315.9,75.0 316.0,75.3 315.5,83.1 M319.8,31.1C320.0,38.2 320.5,34.9 320.5,52.5C320.5,70.1 320.0,73.5 319.8,84.0 M319.0,33.0C318.9,35.3 319.0,35.7 318.8,40.0C318.6,44.3 318.5,44.0 318.4,46.0 M320.5,39.7C321.4,40.2 322.1,38.7 323.3,41.1C324.5,43.5 323.8,44.9 324.0,46.8 M303.5,83.5C305.3,83.3 305.4,83.2 309.0,83.0C312.6,82.8 312.6,83.0 314.4,83.0L318.5,85.3 M316.4,85.6C316.5,88.7 316.4,88.9 316.6,95.0C316.8,101.1 316.9,101.0 317.0,104.0L314.9,106.0C313.3,106.1 312.8,106.1 310.0,106.4C307.2,106.7 307.7,106.8 306.6,107.0 M303.5,84.0L303.5,88.4C303.1,90.3 303.1,90.2 302.4,94.0C301.7,97.8 301.7,97.9 301.4,99.8C302.6,99.7 302.4,99.9 305.0,99.4C307.6,98.9 307.8,98.7 309.2,98.3C308.1,96.5 307.9,96.3 306.0,93.0C304.1,89.7 304.3,89.9 303.5,88.4 M312.3,86.9C311.4,88.1 311.3,88.0 309.6,90.6C307.9,93.2 307.9,93.3 307.1,94.7C307.9,95.3 307.9,95.2 309.6,96.4C311.3,97.6 311.4,97.7 312.3,98.3 M301.9,100.4C302.1,101.3 302.1,101.5 302.6,103.0C303.1,104.5 302.2,103.7 303.5,105.0C304.8,106.3 305.6,106.3 306.6,107.0 M304.0,91.0L304.4,97.0 M305.4,92.5L306.4,97.6 M302.8,93.0L302.6,98.6 M309.2,107.8C308.1,108.2 307.5,107.6 306.0,109.0C304.5,110.4 304.7,109.9 304.6,112.0C304.5,114.1 304.1,113.7 305.6,115.4C307.1,117.1 306.7,116.9 309.0,117.0C311.3,117.1 311.0,117.3 312.6,115.8C314.2,114.3 313.8,114.6 313.8,112.4C313.8,110.2 314.1,110.7 312.6,109.2C311.1,107.7 310.3,108.3 309.2,107.8 M307.0,109.5C307.5,110.5 308.4,110.5 308.6,112.5C308.8,114.5 307.9,114.5 307.5,115.5 M309.5,108.6C310.0,109.7 310.7,109.5 311.0,112.0C311.3,114.5 310.6,114.7 310.4,116.0 M308.0,105.5C307.9,106.0 307.5,106.2 307.6,107.0C307.7,107.8 308.1,107.7 308.4,108.0" stroke-width="1.45"/>
<path d="M305.0,110.5C301.7,117.0 301.8,116.8 295.0,130.0C288.2,143.2 291.5,136.7 284.5,150.0C277.5,163.3 280.8,157.0 274.0,170.0C267.2,183.0 270.7,177.0 264.0,189.0C257.3,201.0 260.5,195.2 254.0,206.0C247.5,216.8 247.7,216.3 244.5,221.5 M305.6,115.4C304.3,119.6 304.1,119.8 301.6,128.0C299.1,136.2 300.3,131.3 298.0,140.0C295.7,148.7 296.9,144.9 294.6,154.0C292.3,163.1 293.5,158.5 291.2,167.2C288.9,175.9 290.0,172.1 287.6,180.0C285.2,187.9 286.9,183.0 284.0,191.0C281.1,199.0 282.1,193.0 279.0,204.0C275.9,215.0 276.1,217.3 274.7,224.0 M312.2,115.4C313.5,119.4 313.5,119.3 316.0,127.5C318.5,135.7 317.5,131.2 319.8,140.0C322.1,148.8 320.9,144.9 323.0,154.0C325.1,163.1 324.8,162.2 326.0,167.2C327.2,172.2 326.4,168.4 326.6,169.0 M313.7,114.4C316.1,119.6 316.2,119.5 321.0,130.0C325.8,140.5 322.7,133.5 328.0,146.0C333.3,158.5 330.9,153.2 337.0,167.5C343.1,181.8 342.0,178.8 346.4,189.0C350.8,199.2 348.9,195.1 350.2,198.2" stroke-width="1.45"/>
<path d="M328.3,93.4C331.5,90.6 331.2,90.8 338.0,85.0C344.8,79.2 345.1,79.0 348.7,76.0C349.0,79.3 349.2,80.7 349.6,86.0C350.0,91.3 350.7,87.7 350.0,92.0C349.3,96.3 347.7,91.8 347.6,99.0C347.5,106.2 348.9,108.7 349.6,113.5 M328.3,94.2C331.5,97.1 331.8,97.4 338.0,103.0C344.2,108.6 344.0,108.3 347.0,111.0C347.4,108.7 348.1,108.2 348.2,104.0C348.3,99.8 347.7,100.3 347.4,98.5 M329.5,94.6C332.7,97.8 332.6,98.2 339.0,104.3C345.4,110.4 345.4,110.1 348.6,113.0 M331.0,95.0L346.5,106.5 M350.0,85.6C353.0,84.4 352.9,84.0 359.0,82.0C365.1,80.0 365.3,80.3 368.4,79.5C368.5,81.7 368.6,82.2 368.8,86.0C369.0,89.8 368.9,89.3 369.0,91.0C366.0,91.3 366.1,91.3 360.0,91.8C353.9,92.3 353.8,92.3 350.7,92.5 M350.7,95.8C353.1,95.6 352.6,95.6 358.0,95.2C363.4,94.8 364.0,94.7 367.0,94.5L367.2,92.6 M352.5,93.0L353.5,95.4 M354.8,92.8L355.8,95.2 M357.2,92.6L358.2,95.0 M359.6,92.4L360.6,94.8 M362.0,92.2L363.0,94.6 M364.4,92.0L365.4,94.6" stroke-width="1.45"/>
<path d="M183.8,272.6C183.7,274.4 183.7,274.4 183.6,278.0C183.5,281.6 183.5,281.5 183.4,283.3 M183.8,272.6C186.9,272.5 186.8,272.3 193.0,272.2C199.2,272.1 198.0,272.0 202.3,272.2C206.6,272.4 203.7,272.2 206.0,272.8C208.3,273.4 206.9,272.2 209.1,274.1C211.3,276.0 210.4,275.1 212.5,278.5C214.6,281.9 214.5,282.4 215.5,284.3 M183.4,283.3C186.5,282.5 187.4,281.8 192.6,280.9C197.8,280.0 194.8,280.6 199.0,280.6C203.2,280.6 202.1,280.4 205.2,280.9C208.3,281.4 206.4,281.0 208.4,282.0C210.4,283.0 210.2,283.2 211.1,283.8 M183.8,283.9C188.4,283.3 189.7,282.3 197.5,282.0C205.3,281.7 202.5,282.2 207.2,283.0C211.9,283.8 210.1,284.0 211.6,284.5 M221.8,268.3C220.5,270.2 220.4,270.3 218.0,274.0C215.6,277.7 216.8,276.1 214.5,279.5C212.2,282.9 212.9,281.5 211.1,284.3C209.3,287.1 210.3,285.4 209.0,288.0C207.7,290.6 208.3,288.1 207.2,292.1C206.1,296.1 206.2,297.3 205.7,299.9 M221.8,268.3C222.6,270.7 222.6,270.8 224.2,275.5C225.8,280.2 225.6,278.2 226.6,282.4C227.6,286.6 226.9,286.3 227.1,288.2 M205.9,299.9C208.9,297.8 208.9,297.7 214.8,293.5C220.7,289.3 219.1,290.7 223.7,287.2C228.3,283.7 227.0,284.3 228.6,282.9 M207.4,297.0C209.9,295.2 210.0,295.1 215.0,291.6C220.0,288.1 220.0,288.1 222.5,286.4" stroke-width="1.75"/>
<path d="M301.5,168.6C308.3,168.8 311.2,169.2 322.0,169.2C332.8,169.2 330.0,168.8 334.0,168.6 M301.5,168.6C300.5,169.6 300.5,168.0 298.5,171.7C296.5,175.4 296.9,175.4 295.4,179.7C293.9,184.0 293.8,181.9 294.0,184.6C294.2,187.3 295.3,186.7 296.0,187.7 M299.7,171.7C299.1,174.5 298.8,174.9 298.0,180.0C297.2,185.1 297.5,184.7 297.2,187.0 M306.5,172.3L318.0,172.3L319.4,184.6L304.6,185.2C304.7,182.8 304.4,182.3 305.0,178.0C305.6,173.7 306.0,174.2 306.5,172.3 M304.2,176.0L304.8,185.0 M317.0,173.5L319.0,184.6 M316.2,173.0L318.0,184.0 M328.0,169.2C329.7,170.6 330.5,169.6 333.0,173.5C335.5,177.4 335.0,177.9 335.4,181.0C335.8,184.1 334.6,182.2 334.2,182.8 M325.0,181.5L325.6,184.0 M326.6,180.0L327.0,180.6 M294.0,187.7C299.6,188.1 303.6,188.0 310.8,189.0C318.0,190.0 313.4,188.6 315.7,190.8C318.0,193.0 317.0,194.1 317.6,195.7 M346.5,172.3C346.7,174.2 346.8,174.5 347.2,178.0C347.6,181.5 347.5,181.2 347.7,182.8 M347.7,178.8C348.8,177.9 348.9,177.0 351.0,176.2C353.1,175.4 353.1,175.2 354.0,176.5C354.9,177.8 355.5,177.9 353.6,180.0C351.7,182.1 350.1,181.9 348.3,182.8 M341.0,192.0C340.5,191.5 339.6,191.5 339.6,190.4C339.6,189.3 340.1,188.7 341.0,188.6C341.9,188.5 342.4,189.1 342.4,190.2C342.4,191.3 341.4,189.7 341.0,192.0C340.6,194.3 341.1,193.7 341.3,197.0C341.5,200.3 341.5,200.3 341.6,202.0 M319.4,194.5C322.7,194.3 322.8,193.7 329.3,193.9C335.8,194.1 335.1,194.4 339.0,195.0C342.9,195.6 340.3,195.5 341.0,195.7 M319.4,194.5C319.0,196.0 318.9,196.3 318.3,199.0C317.7,201.7 317.8,201.3 317.6,202.5 M320.6,205.0L337.9,205.6 M307.0,210.5L326.8,208.6 M322.0,203.5C322.7,204.2 323.8,204.5 324.0,205.5C324.2,206.5 323.0,206.2 322.5,206.5 M288.0,189.6L290.0,190.8 M286.2,200.6C288.1,199.7 287.9,199.2 292.0,198.0C296.1,196.8 293.8,197.0 298.5,197.0C303.2,197.0 301.5,196.8 306.0,198.0C310.5,199.2 308.8,197.7 312.0,200.6C315.2,203.5 315.3,203.7 315.7,206.8C316.1,209.9 315.9,208.5 313.3,209.9C310.7,211.3 309.8,210.6 308.0,211.0 M290.8,203.5C292.2,202.9 292.3,201.6 295.0,201.8C297.7,202.0 297.5,201.9 299.0,204.0C300.5,206.1 300.5,206.0 299.5,208.0C298.5,210.0 298.5,209.8 296.0,210.0C293.5,210.2 293.7,210.2 292.0,208.5C290.3,206.8 291.2,206.2 290.8,205.0 M288.5,203.0C288.2,204.0 287.2,204.2 287.5,206.0C287.8,207.8 288.8,207.7 289.5,208.5" stroke-width="1.45"/>
<path d="M342.8,202.5L358.8,202.5 M325.5,214.4L331.5,213.2 M325.5,215.6L331.5,214.6 M325.3,216.8L331.5,216.0" stroke-width="2.0"/>
<path d="M296.0,216.0C295.3,218.0 294.6,217.9 293.8,222.0C293.0,226.1 293.3,224.3 293.5,228.3C293.7,232.3 293.5,230.3 294.3,234.0C295.1,237.7 294.3,236.2 296.0,239.4C297.7,242.6 296.6,241.2 299.5,243.5C302.4,245.8 298.8,244.7 304.6,246.2C310.4,247.7 308.0,247.2 317.0,248.0C326.0,248.8 323.7,249.1 331.7,248.6C339.7,248.1 335.2,248.5 341.0,246.6C346.8,244.7 343.8,246.4 349.0,243.0C354.2,239.6 352.0,241.4 356.5,236.5C361.0,231.6 359.6,233.1 362.5,228.3C365.4,223.5 364.1,226.1 365.3,222.0C366.5,217.9 366.2,219.3 366.2,216.0C366.2,212.7 366.2,214.1 365.4,212.0C364.6,209.9 365.2,210.5 363.7,209.8C362.2,209.1 362.6,209.4 361.0,209.8C359.4,210.2 359.5,210.6 358.8,211.0 M294.0,241.0C295.7,242.7 295.0,243.6 299.0,246.2C303.0,248.8 296.7,247.5 306.0,248.8C315.3,250.1 320.0,249.6 327.0,250.0 M301.0,214.8C299.8,215.7 299.2,214.1 297.5,217.5C295.8,220.9 296.0,220.2 295.8,225.0C295.6,229.8 295.4,228.3 296.8,232.0C298.2,235.7 297.6,235.5 300.0,236.0C302.4,236.5 301.9,236.8 304.0,233.5C306.1,230.2 305.9,231.0 306.2,226.0C306.5,221.0 306.7,222.2 305.0,218.5C303.3,214.8 302.3,216.0 301.0,214.8 M303.5,216.0C304.7,217.0 305.4,215.7 307.0,219.0C308.6,222.3 308.4,221.3 308.2,226.0C308.0,230.7 308.2,229.5 306.5,233.0C304.8,236.5 304.2,235.3 303.0,236.5 M309.6,215.4C312.1,215.8 312.2,215.8 317.0,216.6C321.8,217.4 319.9,217.2 324.0,217.8C328.1,218.4 326.3,219.1 329.3,218.5C332.3,217.9 331.0,217.7 333.0,216.0C335.0,214.3 333.8,214.9 335.4,213.5C337.0,212.1 335.8,211.3 337.9,211.7C340.0,212.1 339.2,213.0 341.6,214.8C344.0,216.6 342.5,216.0 345.0,217.0C347.5,218.0 346.3,218.2 349.0,217.9C351.7,217.6 350.5,217.5 353.0,216.0C355.5,214.5 354.5,215.3 356.4,213.5C358.3,211.7 358.0,211.5 358.8,210.5 M334.2,214.6C333.9,215.7 333.1,215.9 333.2,218.0C333.3,220.1 333.3,220.7 334.5,221.0C335.7,221.3 336.2,220.9 336.8,219.0C337.4,217.1 336.4,216.5 336.2,215.2 M311.6,229.0C310.8,229.1 310.6,228.0 309.1,229.2C307.6,230.4 307.8,230.0 307.0,232.7C306.2,235.4 306.3,234.8 306.6,237.4C306.9,240.0 306.7,239.6 308.0,240.6C309.3,241.6 309.0,241.6 310.5,240.4C312.0,239.2 311.8,239.6 312.6,236.9C313.4,234.2 313.3,234.8 313.0,232.2C312.7,229.6 312.1,230.1 311.6,229.0 M317.1,230.3C316.4,230.4 316.3,229.4 315.0,230.5C313.7,231.6 314.0,231.2 313.3,233.6C312.6,236.0 312.6,235.4 312.9,237.7C313.2,240.0 313.0,239.6 314.1,240.5C315.2,241.4 314.9,241.4 316.2,240.3C317.5,239.2 317.2,239.6 317.9,237.2C318.6,234.8 318.6,235.4 318.3,233.1C318.0,230.8 317.5,231.2 317.1,230.3 M322.5,230.1C321.8,230.2 321.7,229.3 320.5,230.3C319.3,231.3 319.5,230.9 318.8,233.2C318.1,235.5 318.2,235.0 318.4,237.2C318.6,239.4 318.5,239.1 319.5,239.9C320.5,240.7 320.3,240.7 321.5,239.7C322.7,238.7 322.5,239.1 323.2,236.8C323.9,234.5 323.8,235.0 323.6,232.8C323.4,230.6 322.9,231.0 322.5,230.1 M327.9,229.7C327.2,229.8 327.0,228.9 325.8,229.9C324.6,230.9 324.9,230.5 324.2,232.7C323.5,234.9 323.6,234.4 323.8,236.5C324.0,238.6 323.8,238.3 324.9,239.1C326.0,239.9 325.8,239.9 327.0,238.9C328.2,237.9 327.9,238.3 328.6,236.1C329.3,233.9 329.2,234.4 329.0,232.3C328.8,230.2 328.3,230.6 327.9,229.7 M333.2,229.0C332.5,229.1 332.4,228.2 331.2,229.2C330.0,230.2 330.3,229.7 329.6,231.9C328.9,234.1 328.9,233.6 329.2,235.7C329.5,237.8 329.3,237.4 330.4,238.2C331.5,239.0 331.2,239.0 332.4,238.0C333.6,237.0 333.3,237.5 334.0,235.3C334.7,233.1 334.7,233.6 334.4,231.5C334.1,229.4 333.6,229.8 333.2,229.0 M338.6,227.7C338.0,227.7 337.9,226.8 336.7,227.8C335.5,228.8 335.7,228.5 335.0,230.6C334.3,232.7 334.4,232.2 334.7,234.2C335.0,236.2 334.8,235.9 335.8,236.7C336.8,237.5 336.5,237.6 337.7,236.6C338.9,235.6 338.7,235.9 339.4,233.8C340.1,231.7 340.0,232.2 339.7,230.2C339.4,228.2 339.0,228.5 338.6,227.7 M344.0,226.0C343.4,226.0 343.3,225.2 342.1,226.1C340.9,227.0 341.1,226.7 340.4,228.8C339.7,230.9 339.8,230.4 340.1,232.4C340.4,234.4 340.2,234.0 341.2,234.8C342.2,235.6 341.9,235.6 343.1,234.7C344.3,233.8 344.1,234.1 344.8,232.0C345.5,229.9 345.4,230.4 345.1,228.4C344.8,226.4 344.4,226.8 344.0,226.0 M349.2,223.5C348.6,223.5 348.5,222.7 347.4,223.6C346.3,224.5 346.4,224.2 345.8,226.2C345.2,228.2 345.2,227.7 345.5,229.7C345.8,231.7 345.6,231.3 346.6,232.1C347.6,232.9 347.3,232.9 348.4,232.0C349.5,231.1 349.4,231.4 350.0,229.4C350.6,227.4 350.6,227.9 350.3,225.9C350.0,223.9 349.6,224.3 349.2,223.5 M354.1,220.7C353.5,220.7 353.4,219.9 352.3,220.8C351.2,221.7 351.4,221.3 350.8,223.3C350.2,225.3 350.3,224.8 350.5,226.7C350.7,228.6 350.6,228.2 351.5,228.9C352.4,229.6 352.2,229.7 353.3,228.8C354.4,227.9 354.2,228.3 354.8,226.3C355.4,224.3 355.3,224.8 355.1,222.9C354.9,221.0 354.4,221.4 354.1,220.7 M356.5,219.0C356.2,221.3 355.3,221.3 355.5,226.0C355.7,230.7 356.5,230.7 357.0,233.0 M358.5,214.0C358.3,217.3 357.6,218.0 357.8,224.0C358.0,230.0 358.6,229.3 359.0,232.0 M360.6,212.0C360.5,215.3 360.0,216.0 360.2,222.0C360.4,228.0 360.9,227.3 361.2,230.0 M362.6,213.0C362.6,215.7 362.8,216.0 362.6,221.0C362.4,226.0 362.2,225.7 362.0,228.0 M354.0,222.0C355.0,221.0 355.0,219.3 357.0,219.0C359.0,218.7 359.0,220.3 360.0,221.0 M352.5,205.0C354.0,204.7 354.5,203.7 357.0,204.2C359.5,204.7 359.3,204.6 360.0,206.5C360.7,208.4 360.4,208.6 359.0,209.8C357.6,211.0 357.2,210.8 355.8,210.0C354.4,209.2 354.5,208.7 354.8,207.5C355.1,206.3 356.1,206.8 356.8,206.4" stroke-width="1.45"/>
<path d="M228.9,199.8C229.4,199.4 229.3,199.2 230.4,198.6C231.5,198.0 230.3,198.4 232.2,198.1C234.1,197.8 233.4,197.8 236.0,197.8C238.6,197.8 237.9,197.7 240.0,198.1C242.1,198.5 241.1,198.2 242.4,199.0C243.7,199.8 243.0,199.2 244.0,200.4C245.0,201.6 244.8,201.1 245.4,202.6C246.0,204.1 245.8,203.1 245.7,204.9C245.6,206.7 245.8,206.0 245.2,208.0C244.6,210.0 244.4,210.0 244.0,211.0 M239.0,205.4C237.3,205.2 237.4,205.0 234.0,204.8C230.6,204.6 231.4,204.7 228.9,204.9C226.4,205.1 227.7,204.9 226.6,205.4C225.5,205.9 225.8,205.6 225.5,206.5C225.2,207.4 225.2,207.3 225.8,208.2C226.4,209.1 225.6,208.8 227.2,209.3C228.8,209.8 228.1,209.6 230.5,209.8C232.9,210.0 233.2,209.9 234.5,209.9 M224.4,211.6C223.9,212.3 223.6,212.1 222.8,213.6C222.0,215.1 222.2,214.1 222.1,216.1C222.0,218.1 221.8,217.4 222.6,219.6C223.4,221.8 222.9,220.7 224.4,222.8C225.9,224.9 225.1,223.9 227.0,225.8C228.9,227.7 227.7,226.8 230.0,228.4C232.3,230.0 231.2,229.3 233.8,230.6C236.4,231.9 236.5,231.8 237.8,232.4 M224.4,212.2C225.3,212.6 225.1,212.7 227.0,213.4C228.9,214.1 228.2,213.8 230.0,214.4C231.8,215.0 230.9,214.8 232.4,215.2C233.9,215.6 233.2,215.6 234.5,215.5C235.8,215.4 235.3,215.6 236.2,215.0C237.1,214.4 236.9,214.2 237.3,213.8 M234.5,215.5C234.0,216.3 233.8,216.3 233.0,218.0C232.2,219.7 232.4,218.7 232.2,220.6C232.0,222.5 232.0,221.7 232.4,223.6C232.8,225.5 232.4,224.5 233.3,226.2C234.2,227.9 233.7,227.1 235.2,228.6C236.7,230.1 236.9,230.0 237.8,230.7 M223.2,215.5C224.6,215.9 224.5,215.8 227.5,216.6C230.5,217.4 230.6,217.4 232.2,217.8 M222.7,220.0C224.1,220.3 224.0,220.2 227.0,220.8C230.0,221.4 230.1,221.4 231.7,221.7 M225.5,224.0C226.7,224.2 226.6,224.2 229.0,224.6C231.4,225.0 231.5,224.9 232.8,225.1 M228.9,227.3C229.9,227.4 230.0,227.5 232.0,227.7C234.0,227.9 234.0,227.8 235.0,227.9 M232.5,230.0L236.5,230.6 M246.3,200.4C245.8,201.1 245.6,201.1 244.8,202.6C244.0,204.1 244.2,203.2 244.0,204.9C243.8,206.6 243.9,205.9 244.1,207.8C244.3,209.7 244.4,209.6 244.6,210.5 M247.8,197.0L248.4,198.4 M249.0,199.2L249.6,200.6 M251.9,199.8L253.7,203.5" stroke-width="1.5999999999999999"/>
<path d="M283.3,213.4C284.7,212.7 284.5,212.2 287.5,211.4C290.5,210.6 289.9,210.6 292.4,211.0C294.9,211.4 293.5,211.1 295.0,212.6C296.5,214.1 296.2,214.5 296.8,215.4 M282.3,219.0C284.2,218.9 284.1,218.6 288.0,218.6C291.9,218.6 292.0,218.9 294.0,219.0 M355.4,217.0C355.2,219.3 354.7,219.7 354.8,224.0C354.9,228.3 355.3,228.0 355.6,230.0 M359.6,212.0C359.5,215.0 359.3,215.7 359.4,221.0C359.5,226.3 359.8,225.7 360.0,228.0 M363.6,213.0C363.7,215.0 363.9,215.3 363.8,219.0C363.7,222.7 363.4,222.3 363.2,224.0" stroke-width="1.45"/>
<path d="M259.3,193.0C261.5,192.2 261.5,191.9 266.0,190.5C270.5,189.1 270.5,189.3 272.8,188.7 M256.2,200.4C259.1,200.6 258.8,200.4 265.0,201.0C271.2,201.6 271.5,201.8 274.7,202.2 M253.7,214.6C256.8,215.0 256.6,214.8 263.0,215.8C269.4,216.8 269.5,217.0 272.8,217.6 M282.3,223.4L292.3,223.4 M282.5,229.6L293.5,230.2 M282.5,234.0L294.8,234.5" stroke-width="1.45"/>
<path d="M239.5,222.4C246.3,222.9 246.1,222.7 260.0,223.8C273.9,224.9 274.1,225.1 281.2,225.8 M239.8,236.0C246.5,236.3 246.4,236.3 260.0,236.8C273.6,237.3 273.7,237.2 280.5,237.4 M239.0,220.4C239.3,222.9 239.3,222.7 239.8,228.0C240.3,233.3 240.3,233.6 240.6,236.4 M241.0,221.5L241.6,236.0 M282.5,235.7C284.3,237.6 283.5,237.4 288.0,241.5C292.5,245.6 293.3,245.8 296.0,248.0" stroke-width="2.2"/>
<path d="M242.8,235.0L247.4,225.0 M247.2,235.2L251.8,225.2 M251.6,235.4L256.2,225.4 M256.0,235.6L260.6,225.6 M260.4,235.8L265.0,225.8 M264.8,236.0L269.4,226.0 M269.2,236.2L273.4,226.6 M273.4,236.4C274.1,234.6 274.1,234.0 275.4,231.0C276.7,228.0 276.1,227.7 277.4,227.4C278.7,227.1 278.9,227.8 279.2,230.0C279.5,232.2 277.8,231.9 278.2,234.0C278.6,236.1 279.1,237.1 280.4,236.4C281.7,235.7 281.8,234.8 282.0,232.0C282.2,229.2 281.3,229.3 281.0,228.0" stroke-width="2.0"/>
<path d="M220.2,294.3C235.1,291.5 235.1,291.4 265.0,286.0C294.9,280.6 289.9,281.2 310.0,278.0C330.1,274.8 320.2,276.9 325.3,276.4 M222.4,295.6C238.3,292.9 236.8,292.9 270.0,287.5C303.2,282.1 304.7,282.1 322.0,279.4 M325.3,276.4C328.3,277.4 326.1,277.7 334.4,279.4C342.7,281.1 339.1,280.1 350.3,281.5C361.5,282.9 356.2,282.2 368.0,283.6C379.8,285.0 379.9,284.9 385.8,285.6 M333.2,277.6C338.5,277.9 337.3,277.2 349.1,278.4C360.9,279.6 357.3,279.3 368.7,281.3C380.1,283.3 378.4,283.3 383.3,284.3 M252.0,294.3C268.0,291.4 275.7,290.5 300.0,285.6C324.3,280.7 316.7,281.6 325.0,279.6 M267.0,299.0C278.0,296.7 276.3,298.1 300.0,292.2C323.7,286.3 325.3,284.9 338.0,281.3 M283.5,301.0C292.3,299.4 289.5,301.9 310.0,296.3C330.5,290.7 333.3,288.2 345.0,284.2 M300.0,297.7C310.0,295.8 312.3,295.6 330.0,292.0C347.7,288.4 345.3,288.5 353.0,286.8 M300.0,301.0C312.0,298.8 315.1,298.5 336.0,294.5C356.9,290.5 353.7,290.8 362.6,289.0 M326.0,297.7C334.0,296.1 333.3,296.2 350.0,293.0C366.7,289.8 367.3,289.7 376.0,288.0 M220.2,296.3C223.6,296.5 215.7,295.6 230.4,297.0C245.1,298.4 244.7,298.1 264.4,300.4C284.1,302.7 281.2,302.7 289.6,303.8 M222.2,299.0C233.5,300.3 233.3,300.3 256.0,303.0C278.7,305.7 278.9,305.8 290.3,307.2 M289.6,303.8C291.2,304.6 287.6,306.4 294.4,306.2C301.2,306.0 294.8,306.3 310.0,303.2C325.2,300.1 321.7,300.8 340.0,297.0C358.3,293.2 349.8,295.0 365.0,291.8C380.2,288.6 378.8,288.9 385.7,287.4 M294.4,307.8C302.9,306.1 301.5,306.5 320.0,302.8C338.5,299.1 328.0,301.1 350.0,296.6C372.0,292.1 374.0,291.8 386.0,289.4 M220.9,310.0C233.1,312.0 234.9,312.4 257.6,316.0C280.3,319.6 278.5,319.2 289.0,320.8 M219.5,311.6C231.3,313.6 230.8,313.9 255.0,317.6C279.2,321.3 279.7,321.1 292.0,322.8 M293.0,322.0C302.0,320.0 301.0,320.3 320.0,316.0C339.0,311.7 327.7,314.4 350.0,309.0C372.3,303.6 374.7,302.8 387.0,299.7 M300.0,318.2C313.3,315.4 311.3,316.5 340.0,309.8C368.7,303.1 370.7,302.1 386.0,298.2 M294.4,307.2C294.1,309.8 294.1,310.1 293.6,315.0C293.1,319.9 293.2,319.7 293.0,322.0 M225.0,299.6L225.3,310.4 M230.4,300.2L230.8,311.4 M225.3,305.5L230.6,306.0 M236.0,301.0C236.0,303.7 234.8,306.1 236.0,309.0C237.2,311.9 238.2,311.9 239.5,309.6C240.8,307.3 239.8,304.5 240.0,302.0 M243.0,302.0C243.1,304.8 241.9,307.5 243.2,310.5C244.5,313.5 245.5,313.6 246.8,311.0C248.1,308.4 247.1,305.5 247.2,302.8 M250.5,303.0C250.5,305.9 249.3,308.5 250.6,311.6C251.9,314.7 253.0,315.0 254.5,312.4C256.0,309.8 254.8,306.7 255.0,303.8 M258.5,304.0C258.6,307.0 257.4,309.7 258.8,313.0C260.2,316.3 261.2,316.6 262.6,313.8C264.0,311.0 262.9,307.7 263.0,304.6 M266.5,305.0C266.6,308.2 265.4,311.1 266.8,314.5C268.2,317.9 269.2,318.2 270.6,315.2C272.0,312.2 270.9,308.8 271.0,305.6 M274.5,306.0C274.5,309.2 273.2,312.1 274.6,315.6C276.0,319.1 277.1,319.4 278.6,316.4C280.1,313.4 278.9,309.9 279.0,306.6 M282.5,307.0C282.5,310.3 281.0,313.3 282.4,317.0C283.8,320.7 285.2,321.1 286.8,318.0C288.4,314.9 287.1,311.1 287.3,307.6 M305.5,305.6L304.5,315.0 M305.2,310.0L309.5,312.5 M317.6,303.2L317.2,313.0 M317.4,307.0L322.0,308.6 M332.5,300.0L332.3,309.6 M349.6,296.8L349.2,305.6 M349.5,300.5L357.0,299.5 M364.0,293.6L363.8,302.6 M364.0,294.5C365.0,294.5 366.1,292.0 367.0,294.4C367.9,296.8 366.9,299.2 366.8,301.6 M378.5,290.6L378.2,298.8 M381.5,290.0L381.3,298.0" stroke-width="1.45"/>
<path d="M216.0,295.6C216.1,298.1 216.1,298.0 216.4,303.0C216.7,308.0 216.7,308.1 216.8,310.6 M385.9,284.0C386.2,286.7 386.2,287.0 386.8,292.0C387.4,297.0 387.5,296.7 387.8,299.0" stroke-width="2.6"/>
<path d="M197.4,315.2C200.6,314.4 200.8,314.1 207.0,312.8C213.2,311.5 213.0,311.7 216.0,311.2 M197.4,315.2C197.5,316.8 197.4,316.8 197.8,320.0C198.2,323.2 198.3,323.2 198.5,324.8 M197.4,315.2C209.9,317.6 209.6,317.7 235.0,322.5C260.4,327.3 260.7,327.2 273.5,329.6 M198.5,324.8C203.0,325.7 202.9,325.4 212.0,327.6C221.1,329.8 221.1,330.2 225.7,331.5 M273.5,329.6C273.2,330.7 273.2,330.4 272.5,333.0C271.8,335.6 271.7,336.0 271.3,337.5 M273.5,329.6C282.3,327.9 277.9,328.9 300.0,324.5C322.1,320.1 316.5,321.2 339.8,316.4C363.1,311.6 351.5,314.9 370.0,310.0C388.5,305.1 386.8,304.5 395.2,301.7 M272.0,337.8C281.3,336.1 280.7,336.4 300.0,332.6C319.3,328.8 310.0,330.7 330.0,326.5C350.0,322.3 338.0,325.0 360.0,320.0C382.0,315.0 384.0,314.3 396.0,311.5 M334.0,331.6C342.7,329.9 341.0,330.3 360.0,326.4C379.0,322.5 380.7,322.1 391.0,320.0 M392.0,312.7C392.2,314.5 392.1,314.3 392.6,318.0C393.1,321.7 392.1,322.0 393.6,323.7C395.1,325.4 396.0,326.8 397.0,323.0C398.0,319.2 396.7,315.9 396.6,312.4 M201.2,318.8C200.9,319.4 200.0,319.5 200.2,320.6C200.4,321.7 200.7,322.0 201.8,322.0C202.9,322.0 203.2,321.7 203.4,320.6C203.6,319.5 203.1,319.4 202.4,318.8C201.7,318.2 201.6,318.8 201.2,318.8 M208.4,321.4C208.1,321.9 207.4,322.1 207.6,323.0C207.8,323.9 208.1,324.2 209.0,324.2C209.9,324.2 210.3,323.9 210.4,323.0C210.5,322.1 210.1,322.0 209.4,321.5C208.7,321.0 208.7,321.4 208.4,321.4 M258.6,328.2C258.3,328.8 257.4,328.9 257.6,330.0C257.8,331.1 258.1,331.5 259.2,331.5C260.3,331.5 260.6,331.1 260.8,330.0C261.0,328.9 260.5,328.9 259.8,328.3C259.1,327.7 259.0,328.2 258.6,328.2 M263.4,329.4C263.1,329.9 262.4,330.0 262.6,331.0C262.8,332.0 263.0,332.4 264.0,332.4C265.0,332.4 265.3,331.9 265.5,331.0C265.7,330.1 265.2,330.1 264.5,329.6C263.8,329.1 263.8,329.5 263.4,329.4 M225.7,331.5C230.5,332.5 230.6,332.5 240.0,334.6C249.4,336.7 249.3,336.7 254.0,337.7C253.7,339.8 253.8,339.9 253.2,344.0C252.6,348.1 252.5,348.0 252.2,350.0C249.5,349.2 249.4,349.6 244.0,347.6C238.6,345.6 242.1,345.7 236.0,344.0C229.9,342.3 229.1,343.1 225.7,342.6 M250.5,337.4L249.6,349.0 M330.0,277.2C333.3,277.5 333.7,277.3 340.0,278.0C346.3,278.7 346.0,278.9 349.0,279.3C350.0,278.0 349.7,277.8 352.0,275.3C354.3,272.8 354.5,273.0 355.8,271.8C360.8,271.5 360.3,270.3 370.7,271.0C381.1,271.7 381.6,272.9 387.0,273.8" stroke-width="1.45"/>
<path d="M202.3,327.9C201.6,329.3 201.2,329.1 200.2,332.0C199.2,334.9 199.2,333.3 199.2,336.5C199.2,339.7 198.8,338.4 200.2,341.5C201.6,344.6 201.2,343.6 203.5,345.7C205.8,347.8 204.5,346.8 207.0,347.8C209.5,348.8 208.4,348.9 210.9,348.8C213.4,348.7 213.4,348.0 214.6,347.6 M210.3,329.7C209.7,330.8 209.2,330.7 208.4,333.0C207.6,335.3 207.9,333.9 207.9,336.5C207.9,339.1 207.6,338.1 208.4,340.8C209.2,343.5 208.2,342.2 210.3,344.5C212.4,346.8 213.2,346.6 214.6,347.6 M206.0,328.8C205.3,330.2 204.8,330.1 204.0,333.0C203.2,335.9 203.3,334.3 203.6,337.5C203.9,340.7 203.5,339.7 205.0,342.5C206.5,345.3 207.0,344.8 208.0,346.0 M214.6,330.3C214.0,331.5 213.6,331.5 212.8,334.0C212.0,336.5 212.2,335.0 212.2,337.7C212.2,340.4 212.0,339.3 212.8,342.2C213.6,345.1 213.1,343.8 214.6,346.3C216.1,348.8 215.3,347.7 217.4,349.6C219.5,351.5 218.3,351.0 220.8,351.9C223.3,352.8 222.1,352.6 225.0,352.4C227.9,352.2 226.8,352.3 229.4,351.3C232.0,350.3 230.7,350.9 232.8,349.4C234.9,347.9 234.7,347.7 235.6,346.9 M222.0,332.2C221.0,333.1 220.6,333.0 219.0,334.8C217.4,336.6 217.8,335.5 217.1,337.7C216.4,339.9 216.6,339.0 216.8,341.5C217.0,344.0 216.6,342.9 217.7,345.1C218.8,347.3 218.1,346.4 220.0,348.2C221.9,350.0 222.2,349.8 223.3,350.6 M219.5,337.0L223.0,333.2 M219.0,341.0L224.5,334.6 M219.6,344.6L225.6,337.6 M221.4,347.6L226.0,342.0 M224.5,349.6L228.0,345.0 M225.7,342.6C227.1,343.1 227.6,342.7 230.0,344.0C232.4,345.3 232.0,345.7 233.0,346.5 M259.0,340.8C258.4,342.4 258.0,342.4 257.2,345.5C256.4,348.6 256.5,347.0 256.5,350.0C256.5,353.0 256.4,351.7 257.2,354.6C258.0,357.5 257.5,356.5 259.0,358.6C260.5,360.7 259.8,359.8 261.8,361.0C263.8,362.2 262.8,362.2 265.1,362.3C267.4,362.4 266.6,362.8 268.6,361.4C270.6,360.0 270.3,359.1 271.2,358.0 M266.4,341.4C265.7,342.8 265.2,342.7 264.2,345.6C263.2,348.5 263.4,347.2 263.3,350.0C263.2,352.8 263.2,351.5 263.8,354.0C264.4,356.5 263.4,355.2 265.1,357.4C266.8,359.6 267.6,359.5 268.8,360.5 M262.8,340.8C262.1,342.4 261.7,342.4 260.8,345.5C259.9,348.6 260.0,346.8 260.0,350.0C260.0,353.2 259.8,352.0 260.8,355.0C261.8,358.0 262.3,357.7 263.0,359.0 M270.5,338.5C269.7,340.0 269.2,339.2 268.0,343.0C266.8,346.8 266.8,345.5 267.0,350.0C267.2,354.5 268.0,354.3 268.5,356.5 M272.5,338.0C271.9,339.7 271.6,339.3 270.8,343.0C270.0,346.7 270.3,347.0 270.0,349.0 M265.5,347.0L268.6,342.5 M265.4,351.4L269.4,345.6 M266.4,355.0L270.0,349.6 M268.4,358.0L271.0,353.6" stroke-width="1.45"/>
<path d="M277.5,346.0C277.0,348.7 276.0,348.7 276.0,354.0C276.0,359.3 275.8,357.2 277.5,362.0C279.2,366.8 278.2,365.3 281.0,368.5C283.8,371.7 284.3,370.5 286.0,371.5 M284.5,362.5C285.7,363.8 285.5,365.5 288.0,366.5C290.5,367.5 290.7,365.8 292.0,365.5 M311.0,339.0C310.5,341.7 309.6,341.5 309.4,347.0C309.2,352.5 309.1,350.5 310.5,355.5C311.9,360.5 311.0,358.7 313.5,362.0C316.0,365.3 316.5,364.3 318.0,365.5 M317.4,354.5C318.5,355.7 318.2,357.2 320.6,358.0C323.0,358.8 323.3,357.3 324.6,357.0 M305.6,332.6C304.9,333.6 304.5,333.5 303.4,335.6C302.3,337.7 302.9,336.0 302.4,339.0C301.9,342.0 301.8,340.9 301.8,344.5C301.8,348.1 301.8,346.6 302.4,349.8C303.0,353.0 302.5,351.5 303.6,354.0C304.7,356.5 304.9,356.3 305.6,357.4 M307.8,333.0C307.1,334.2 306.7,334.0 305.6,336.5C304.5,339.0 305.1,337.7 304.6,340.5C304.1,343.3 304.1,341.8 304.2,345.0C304.3,348.2 304.6,348.3 304.8,350.0 M303.4,334.0C302.7,335.3 302.3,335.0 301.4,338.0C300.5,341.0 301.0,341.3 300.8,343.0" stroke-width="1.45"/>
<path d="M410.5,212.5C410.0,214.0 409.0,214.4 409.0,217.0C409.0,219.6 410.0,219.3 410.5,220.4 M410.5,212.5C411.3,212.7 411.5,212.3 413.0,213.0C414.5,213.7 413.7,212.7 415.0,214.7C416.3,216.7 416.1,215.6 416.8,219.0C417.5,222.4 417.3,220.3 417.2,225.0C417.1,229.7 416.9,227.5 416.4,233.0C415.9,238.5 415.9,238.7 415.7,241.5 M411.2,220.0C411.9,220.5 412.4,219.8 413.4,221.5C414.4,223.2 414.0,218.3 414.3,225.0C414.6,231.7 414.2,236.0 414.2,241.5 M411.0,214.0L411.4,218.5 M409.0,243.0L416.4,244.0C416.3,246.7 416.3,246.6 416.0,252.0C415.7,257.4 415.7,257.5 415.6,260.3L409.2,259.6C409.1,256.7 409.1,256.5 409.0,251.0C408.9,245.5 409.0,245.7 409.0,243.0 M410.8,246.0L414.5,246.5 M411.0,249.5L414.2,250.0 M411.0,253.0C411.9,253.1 412.7,252.3 413.6,253.4C414.5,254.5 414.6,255.2 413.8,256.4C413.0,257.6 412.1,256.8 411.2,257.0 M409.4,244.2L416.2,245.0 M409.6,245.4L416.0,246.2 M410.0,247.5L410.2,258.0 M415.0,247.0L414.8,252.0 M469.5,215.5C467.8,214.7 467.8,213.0 464.3,213.2C460.8,213.4 461.6,213.6 459.0,216.2C456.4,218.8 457.6,217.1 456.6,221.0C455.6,224.9 456.5,222.7 456.0,228.0C455.5,233.3 455.7,231.2 455.2,237.0C454.7,242.8 455.2,239.1 454.6,245.4C454.0,251.7 454.2,249.5 453.4,256.0C452.6,262.5 452.7,261.9 452.3,264.8 M469.5,215.5C468.9,216.3 468.8,216.4 467.6,218.0C466.4,219.6 467.1,218.2 465.8,220.4C464.5,222.6 464.6,221.3 463.6,224.5C462.6,227.7 463.4,225.2 462.8,230.0C462.2,234.8 462.3,233.4 461.8,239.0C461.3,244.6 461.6,240.6 461.3,246.9C461.0,253.2 461.1,251.0 460.8,258.0C460.5,265.0 460.6,264.5 460.5,267.8 M466.5,214.6L464.0,219.5 M468.6,214.8L466.0,220.5 M457.5,246.9C457.5,250.9 457.4,250.8 457.4,259.0C457.4,267.2 457.5,267.3 457.5,271.5 M453.2,249.5L460.8,250.0 M453.0,256.0L461.0,256.4 M453.0,260.4L461.2,260.8 M453.0,246.9C452.9,250.6 452.8,250.6 452.8,258.0C452.8,265.4 452.9,265.3 453.0,269.0" stroke-width="1.45"/>
<path d="M474.2,221.8C474.2,223.9 474.3,223.9 474.3,228.0C474.3,232.1 474.2,232.0 474.2,234.0" stroke-width="0.7"/>
<path d="M417.2,237.0C421.5,236.5 419.3,236.3 430.0,235.6C440.7,234.9 437.4,235.0 449.3,235.0C461.2,235.0 460.3,235.4 465.8,235.6 M419.0,236.2C426.0,235.5 425.7,234.7 440.0,234.2C454.3,233.7 454.7,234.5 462.0,234.6 M417.2,237.0C418.9,238.3 416.1,239.3 422.4,240.9C428.7,242.5 427.0,241.4 436.0,241.9C445.0,242.4 438.9,242.7 449.3,242.4C459.7,242.1 457.8,241.4 467.3,240.9C476.8,240.4 474.2,240.9 477.7,240.9 M465.8,234.0C467.9,234.9 468.0,234.6 472.0,236.6C476.0,238.6 475.8,238.9 477.7,240.0C477.8,243.7 477.9,243.7 477.9,251.0C477.9,258.3 477.8,258.2 477.7,261.8 M417.2,237.0L416.8,242.0 M449.3,242.4C449.2,246.3 449.1,246.5 448.9,254.0C448.7,261.5 448.8,257.5 448.6,264.8C448.4,272.1 448.1,268.3 448.2,276.0C448.3,283.7 448.6,283.9 448.8,287.9 M477.7,248.3L481.5,248.3 M477.7,253.6L481.5,253.6 M481.5,246.8C483.0,246.3 483.0,245.9 486.0,245.4C489.0,244.9 488.9,245.4 490.4,245.4C490.5,246.9 490.6,246.9 490.8,250.0C491.0,253.1 490.9,253.2 490.9,254.8C489.3,254.9 489.1,255.3 486.0,255.2C482.9,255.1 483.1,254.8 481.6,254.6C481.6,253.2 481.5,253.1 481.5,250.5C481.5,247.9 481.5,248.0 481.5,246.8 M486.0,245.4L486.3,255.2 M395.0,262.5C402.1,262.5 400.5,262.4 416.4,262.6C432.3,262.8 434.0,263.0 442.8,263.2 M386.7,261.4L395.0,262.5 M386.7,261.4C387.0,263.8 387.0,263.6 387.6,268.5C388.2,273.4 388.3,273.5 388.6,276.0 M388.6,276.0C390.7,275.7 386.2,275.1 395.0,275.2C403.8,275.3 400.1,275.5 415.0,276.2C429.9,276.9 431.5,277.0 439.8,277.4 M439.8,267.0C439.7,268.7 439.7,268.5 439.4,272.0C439.1,275.5 439.1,275.6 439.0,277.4 M442.8,263.2C443.8,264.0 444.1,263.7 445.8,265.5C447.5,267.3 447.3,267.5 448.0,268.5 M380.0,273.4L388.2,273.4 M477.7,262.0C478.5,262.9 478.5,262.8 480.2,264.7C481.9,266.6 481.9,266.6 482.8,267.6 M482.8,267.6C484.2,267.2 484.0,267.0 487.0,266.4C490.0,265.8 488.6,265.7 491.9,265.7C495.2,265.7 494.2,265.2 497.0,266.3C499.8,267.4 499.0,267.3 500.3,268.9C501.6,270.5 501.0,269.7 500.8,271.0C500.6,272.3 501.0,271.9 499.7,272.8C498.4,273.7 498.7,273.4 497.0,273.6C495.3,273.8 495.9,273.9 494.5,273.4C493.1,272.9 493.7,273.1 492.8,272.0C491.9,270.9 493.5,271.1 491.9,270.2C490.3,269.3 490.6,269.6 488.0,269.2C485.4,268.8 485.4,269.0 484.1,268.9 M464.0,243.6C463.9,247.4 463.8,247.4 463.6,255.0C463.4,262.6 463.4,262.5 463.3,266.3C464.1,267.0 464.1,267.1 465.6,268.4C467.1,269.7 467.1,269.6 467.9,270.2 M464.0,243.4C466.3,243.1 466.2,243.1 471.0,242.4C475.8,241.7 475.9,241.6 478.3,241.2 M453.0,269.0C455.3,269.5 455.3,269.6 460.0,270.4C464.7,271.2 464.8,271.1 467.2,271.5C467.3,273.0 467.4,272.8 467.6,276.0C467.8,279.2 467.8,279.5 467.9,281.2 M449.7,269.0C448.8,269.5 448.5,269.3 447.0,270.6C445.5,271.9 446.0,270.3 445.2,272.8C444.4,275.3 444.8,274.1 444.6,278.0C444.4,281.9 444.5,282.3 444.5,284.5 M477.2,264.0C476.3,264.8 475.6,264.4 474.6,266.4C473.6,268.4 473.9,267.7 474.2,270.0C474.5,272.3 474.2,271.9 475.6,273.4C477.0,274.9 476.9,275.0 478.4,274.4C479.9,273.8 479.7,274.0 480.2,271.5C480.7,269.0 481.0,269.5 480.0,267.0C479.0,264.5 478.1,265.0 477.2,264.0 M466.7,270.0C469.2,268.5 470.9,267.8 474.2,265.5C477.5,263.2 475.7,264.0 476.5,263.2 M466.7,270.0C466.9,271.7 466.9,271.5 467.2,275.0C467.5,278.5 467.4,278.6 467.5,280.4 M454.8,280.4L469.7,280.4L469.7,285.6L455.5,287.2L454.8,280.4 M459.3,290.1L475.7,287.1L478.7,295.4L465.3,297.6L463.8,293.1 M478.7,295.4C480.7,297.4 480.7,298.8 484.7,301.3C488.7,303.8 488.7,302.3 490.7,302.8 M476.5,285.6C476.7,284.1 476.5,283.7 477.2,281.0C477.9,278.3 476.9,279.6 478.7,277.4C480.5,275.2 479.6,275.9 482.6,274.4C485.6,272.9 483.0,273.0 487.7,273.0C492.4,273.0 493.6,273.9 496.6,274.4" stroke-width="1.45"/>
<path d="M387.0,307.5C388.3,303.7 388.3,301.7 391.0,296.0C393.7,290.3 392.7,293.3 395.0,290.5C397.3,287.7 395.0,290.2 398.0,287.6C401.0,285.0 399.0,285.6 404.0,282.7C409.0,279.8 407.0,280.1 413.0,278.9C419.0,277.7 415.5,278.5 422.0,279.0C428.5,279.5 425.0,278.9 432.4,280.4C439.8,281.9 439.3,280.9 444.3,283.4C449.3,285.9 446.3,286.4 447.3,287.9 M395.0,301.3C396.0,298.4 395.0,297.8 398.0,292.5C401.0,287.2 402.0,287.8 404.0,285.5 M407.0,307.3C407.5,303.8 406.0,302.6 408.5,296.9C411.0,291.2 408.9,293.1 414.4,290.1C419.9,287.1 418.4,287.9 424.9,287.9C431.4,287.9 430.9,289.4 433.9,290.1 M409.6,282.6L410.6,285.0 M415.0,293.5L417.0,293.0 M398.0,308.0C398.7,311.3 397.8,312.3 400.0,318.0C402.2,323.7 401.2,321.5 404.5,325.0C407.8,328.5 408.2,327.3 410.0,328.5 M402.6,305.0C402.5,308.0 401.4,308.5 402.2,314.0C403.0,319.5 404.1,319.0 405.0,321.5" stroke-width="1.45"/>
<path d="M413.5,303.0C412.9,306.0 412.0,306.0 411.8,312.0C411.6,318.0 411.3,315.8 413.0,321.0C414.7,326.2 413.8,324.6 416.8,327.6C419.8,330.6 420.3,329.2 422.0,330.0 M438.5,296.5C438.1,299.3 437.2,299.3 437.2,305.0C437.2,310.7 436.9,308.6 438.5,313.5C440.1,318.4 439.5,316.9 442.0,319.6C444.5,322.3 444.7,320.9 446.0,321.6 M484.2,281.0C483.7,283.7 482.9,283.7 482.8,289.0C482.7,294.3 482.6,292.7 484.0,297.0C485.4,301.3 486.0,300.3 487.0,302.0" stroke-width="1.45"/>
<ellipse cx="288.9" cy="353.6" rx="12.2" ry="17.8" transform="rotate(14 288.9 353.6)" stroke-width="1.45"/><ellipse cx="289.6" cy="353.8" rx="7.6" ry="13.2" transform="rotate(12 289.6 353.8)" stroke-width="1.45"/><ellipse cx="321.8" cy="346.5" rx="12.2" ry="17.2" transform="rotate(12 321.8 346.5)" stroke-width="1.45"/><ellipse cx="322" cy="345.6" rx="7.6" ry="12.2" transform="rotate(10 322 345.6)" stroke-width="1.45"/><ellipse cx="425.6" cy="311.6" rx="9.6" ry="15.2" transform="rotate(14 425.6 311.6)" stroke-width="1.45"/><ellipse cx="424" cy="311" rx="3.9" ry="8.6" transform="rotate(14 424 311)" stroke-width="1.45"/><ellipse cx="425.8" cy="312" rx="8.2" ry="13.8" transform="rotate(14 425.8 312)" stroke-width="1.45"/><ellipse cx="448.2" cy="306.4" rx="10.2" ry="15" transform="rotate(17 448.2 306.4)" stroke-width="1.45"/><ellipse cx="450.4" cy="307.6" rx="5.4" ry="12.2" transform="rotate(15 450.4 307.6)" stroke-width="1.45"/><ellipse cx="449" cy="307" rx="7.6" ry="13.4" transform="rotate(16 449 307)" stroke-width="1.45"/><ellipse cx="491.2" cy="289.4" rx="8.4" ry="13.6" transform="rotate(10 491.2 289.4)" stroke-width="1.45"/><ellipse cx="492.8" cy="288.8" rx="4.4" ry="9" transform="rotate(10 492.8 288.8)" stroke-width="1.45"/><ellipse cx="492" cy="289.2" rx="6.2" ry="11.2" transform="rotate(10 492 289.2)" stroke-width="1.45"/>
</g>
<circle cx="300.3" cy="222.6" r="0.8" fill="#1e2943" stroke="none"/><circle cx="299.6" cy="229.4" r="0.8" fill="#1e2943" stroke="none"/><circle cx="217" cy="198.7" r="0.7" fill="#1e2943" stroke="none"/><circle cx="633" cy="280.5" r="0.55" fill="#1e2943" stroke="none"/><circle cx="132.5" cy="433" r="0.5" fill="#1e2943" stroke="none"/><circle cx="92.5" cy="380.5" r="0.45" fill="#1e2943" stroke="none"/><circle cx="245" cy="247" r="0.5" fill="#1e2943" stroke="none"/><circle cx="216.5" cy="198.5" r="0.5" fill="#1e2943" stroke="none"/>
</g>
</svg>
</body></html>
